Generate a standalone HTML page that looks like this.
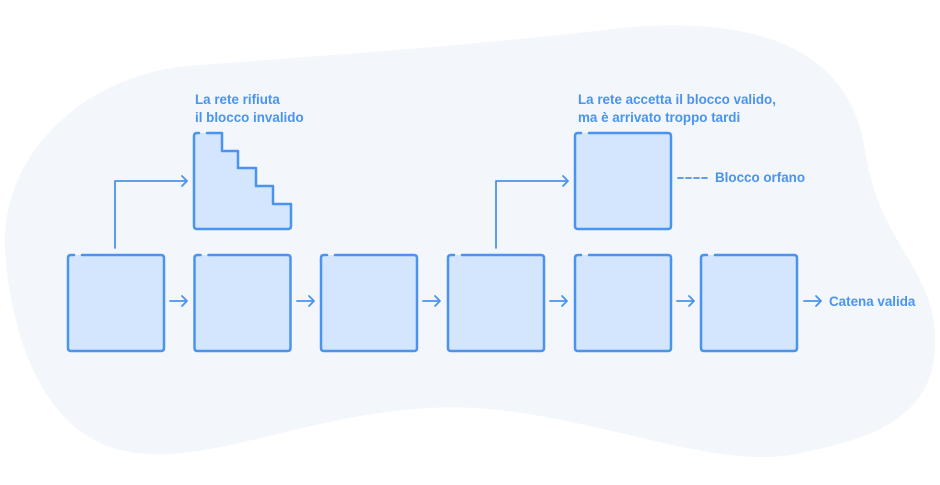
<!DOCTYPE html>
<html><head><meta charset="utf-8"><style>
html,body{margin:0;padding:0;background:#fff;width:940px;height:485px;overflow:hidden}
svg{display:block}
text{font-family:"Liberation Sans",sans-serif;font-weight:bold;font-size:13.4px;fill:#4a93ee}
</style></head><body>
<svg width="940" height="485" viewBox="0 0 940 485">
<path d="M200,65 C330,55 480,45 620,28 C760,15 850,50 865,150 C880,250 940,270 935,350 C930,420 870,440 790,455 C700,470 560,400 430,408 C300,415 200,470 120,450 C40,430 10,330 5,250 C0,150 90,70 200,65 Z" fill="#f3f7fb"/>
<g fill="#d3e6fd" stroke="#4a93ee" stroke-width="2.5" stroke-linejoin="round" stroke-linecap="round">
<path id="b" d="M82,255 L161,255 Q164,255 164,258 L164,348 Q164,351 161,351 L71,351 Q68,351 68,348 L68,258 Q68,255 71,255 L74,255"/>
<use href="#b" x="126.5"/>
<use href="#b" x="253"/>
<use href="#b" x="380"/>
<use href="#b" x="507"/>
<use href="#b" x="633"/>
<use href="#b" x="507" y="-122"/>
<path d="M207,133 L222,133 L222,151 L238,151 L238,168 L256,168 L256,186 L273,186 L273,204 L291,204 L291,226 Q291,229 288,229 L197,229 Q194,229 194,226 L194,136 Q194,133 197,133 L199,133"/>
</g>
<g fill="none" stroke="#4a93ee" stroke-width="1.8" stroke-linecap="round" stroke-linejoin="round">
<path d="M115,248 L115,181 L187,181 M182,176 L187,181 L182,186"/>
<path d="M496,248 L496,181 L568,181 M563,176 L568,181 L563,186"/>
<g id="a"><path d="M170,301 L187,301 M182,296 L187,301 L182,306"/></g>
<use href="#a" x="127"/>
<use href="#a" x="253"/>
<use href="#a" x="380"/>
<use href="#a" x="507"/>
<use href="#a" x="634"/>
<path d="M678,178 L707,178" stroke-dasharray="5,3"/>
</g>
<text x="195" y="104">La rete rifiuta</text>
<text x="195" y="122">il blocco invalido</text>
<text x="578" y="104">La rete accetta il blocco valido,</text>
<text x="578" y="122">ma è arrivato troppo tardi</text>
<text x="715" y="182">Blocco orfano</text>
<text x="829" y="306">Catena valida</text>
</svg>
</body></html>
